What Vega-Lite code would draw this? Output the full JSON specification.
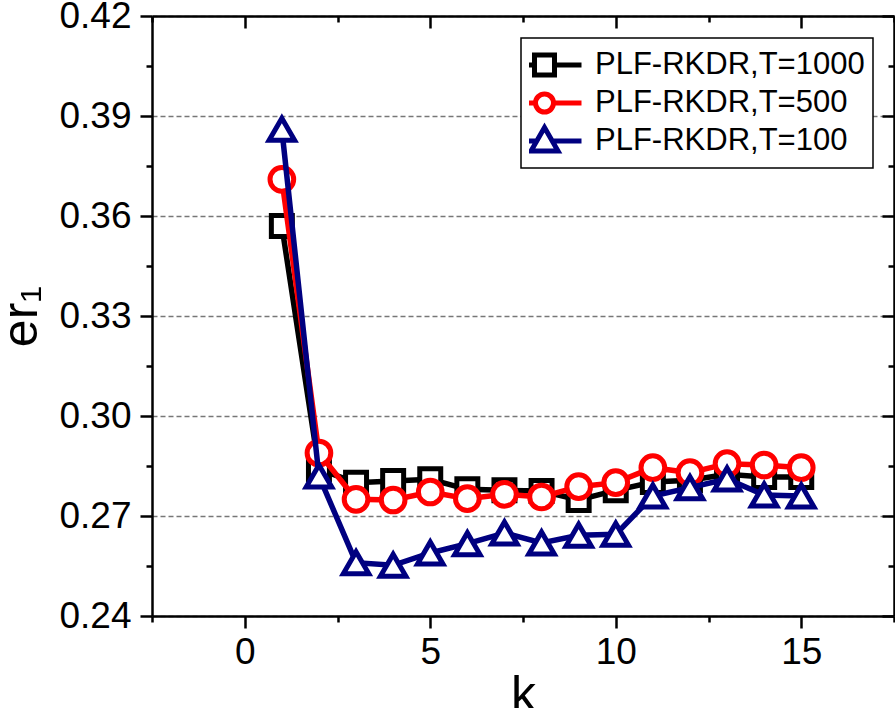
{
  "$schema": "https://vega.github.io/schema/vega-lite/v6.json",
  "width": 742,
  "height": 600,
  "autosize": {"type": "none"},
  "padding": {"left": 152, "top": 16, "right": 1, "bottom": 93},
  "background": "white",
  "config": {
    "view": {"stroke": null},
    "font": "Liberation Sans",
    "axis": {
      "domainColor": "black", "domainWidth": 2.5, "tickColor": "black", "tickWidth": 2.5,
      "labelColor": "black", "titleColor": "black", "labelFont": "Liberation Sans", "titleFont": "Liberation Sans",
      "labelFontSize": 37, "titleFontSize": 50, "titleFontWeight": "normal", "labelOverlap": false, "labelFlush": false, "labelBound": false
    }
  },
  "data": {"values": [
    {"k": 1, "er": 0.357, "T": "PLF-RKDR,T=1000"},
    {"k": 2, "er": 0.284, "T": "PLF-RKDR,T=1000"},
    {"k": 3, "er": 0.280, "T": "PLF-RKDR,T=1000"},
    {"k": 4, "er": 0.2805, "T": "PLF-RKDR,T=1000"},
    {"k": 5, "er": 0.281, "T": "PLF-RKDR,T=1000"},
    {"k": 6, "er": 0.278, "T": "PLF-RKDR,T=1000"},
    {"k": 7, "er": 0.2777, "T": "PLF-RKDR,T=1000"},
    {"k": 8, "er": 0.2775, "T": "PLF-RKDR,T=1000"},
    {"k": 9, "er": 0.2748, "T": "PLF-RKDR,T=1000"},
    {"k": 10, "er": 0.2777, "T": "PLF-RKDR,T=1000"},
    {"k": 11, "er": 0.2802, "T": "PLF-RKDR,T=1000"},
    {"k": 12, "er": 0.2807, "T": "PLF-RKDR,T=1000"},
    {"k": 13, "er": 0.2825, "T": "PLF-RKDR,T=1000"},
    {"k": 14, "er": 0.2817, "T": "PLF-RKDR,T=1000"},
    {"k": 15, "er": 0.2817, "T": "PLF-RKDR,T=1000"},
    {"k": 1, "er": 0.371, "T": "PLF-RKDR,T=500"},
    {"k": 2, "er": 0.2889, "T": "PLF-RKDR,T=500"},
    {"k": 3, "er": 0.275, "T": "PLF-RKDR,T=500"},
    {"k": 4, "er": 0.2748, "T": "PLF-RKDR,T=500"},
    {"k": 5, "er": 0.2772, "T": "PLF-RKDR,T=500"},
    {"k": 6, "er": 0.2752, "T": "PLF-RKDR,T=500"},
    {"k": 7, "er": 0.2765, "T": "PLF-RKDR,T=500"},
    {"k": 8, "er": 0.2757, "T": "PLF-RKDR,T=500"},
    {"k": 9, "er": 0.2788, "T": "PLF-RKDR,T=500"},
    {"k": 10, "er": 0.280, "T": "PLF-RKDR,T=500"},
    {"k": 11, "er": 0.2845, "T": "PLF-RKDR,T=500"},
    {"k": 12, "er": 0.283, "T": "PLF-RKDR,T=500"},
    {"k": 13, "er": 0.2857, "T": "PLF-RKDR,T=500"},
    {"k": 14, "er": 0.2853, "T": "PLF-RKDR,T=500"},
    {"k": 15, "er": 0.2845, "T": "PLF-RKDR,T=500"},
    {"k": 1, "er": 0.386, "T": "PLF-RKDR,T=100"},
    {"k": 2, "er": 0.282, "T": "PLF-RKDR,T=100"},
    {"k": 3, "er": 0.256, "T": "PLF-RKDR,T=100"},
    {"k": 4, "er": 0.2552, "T": "PLF-RKDR,T=100"},
    {"k": 5, "er": 0.2589, "T": "PLF-RKDR,T=100"},
    {"k": 6, "er": 0.2617, "T": "PLF-RKDR,T=100"},
    {"k": 7, "er": 0.2649, "T": "PLF-RKDR,T=100"},
    {"k": 8, "er": 0.2619, "T": "PLF-RKDR,T=100"},
    {"k": 9, "er": 0.2642, "T": "PLF-RKDR,T=100"},
    {"k": 10, "er": 0.2645, "T": "PLF-RKDR,T=100"},
    {"k": 11, "er": 0.276, "T": "PLF-RKDR,T=100"},
    {"k": 12, "er": 0.2785, "T": "PLF-RKDR,T=100"},
    {"k": 13, "er": 0.2811, "T": "PLF-RKDR,T=100"},
    {"k": 14, "er": 0.2763, "T": "PLF-RKDR,T=100"},
    {"k": 15, "er": 0.276, "T": "PLF-RKDR,T=100"}
  ]},
  "layer": [
    {
      "transform": [{"filter": "datum.T === 'PLF-RKDR,T=1000'"}],
      "mark": {"type": "line", "strokeWidth": 5.5},
      "encoding": {
        "x": {"field": "k", "type": "quantitative", "scale": {"domain": [-2.5, 17.5], "nice": false, "zero": false},
          "axis": {"orient": "bottom", "values": [-2.5, 0, 2.5, 5, 7.5, 10, 12.5, 15, 17.5], "format": "d",
            "labelExpr": "datum.value % 5 === 0 ? datum.label : ''",
            "tickSize": {"condition": {"test": "datum.value % 5 === 0", "value": 12}, "value": 6},
            "grid": false, "title": "k", "labelPadding": 6, "titlePadding": 0}},
        "y": {"field": "er", "type": "quantitative", "scale": {"domain": [0.24, 0.42], "nice": false, "zero": false},
          "axis": {"orient": "left", "values": [0.24, 0.255, 0.27, 0.285, 0.3, 0.315, 0.33, 0.345, 0.36, 0.375, 0.39, 0.405, 0.42], "format": ".2f",
            "labelExpr": "abs(datum.value*100/3 - round(datum.value*100/3)) < 0.01 ? datum.label : ''",
            "tickSize": {"condition": {"test": "abs(datum.value*100/3 - round(datum.value*100/3)) < 0.01", "value": 12}, "value": 6},
            "grid": true, "gridColor": "#777777", "gridDash": [5, 3], "gridWidth": 1.5,
            "gridOpacity": {"condition": {"test": "abs(datum.value*100/3 - round(datum.value*100/3)) < 0.01", "value": 1}, "value": 0},
            "title": "er₁", "labelPadding": 9, "titlePadding": 12}},
        "stroke": {"field": "T", "type": "nominal",
          "scale": {"domain": ["PLF-RKDR,T=1000", "PLF-RKDR,T=500", "PLF-RKDR,T=100"], "range": ["#000000", "#ff0000", "#000080"]},
          "legend": {"orient": "none", "legendX": 369, "legendY": 22, "title": null, "direction": "vertical",
            "padding": 8, "strokeColor": "black", "fillColor": "white",
            "labelFontSize": 31, "labelFont": "Liberation Sans", "labelColor": "black", "labelLimit": 0,
            "symbolSize": 400, "symbolStrokeWidth": 5, "labelOffset": 35, "rowPadding": 0, "clipHeight": 38,
            "encode": {
              "legend": {"update": {"strokeWidth": {"value": 1.5}}},
              "symbols": {"update": {
              "shape": {"signal": "datum.value === 'PLF-RKDR,T=1000' ? 'M-3.3,0H-1M1,0H3.7M-1,-1H1V1H-1Z' : datum.value === 'PLF-RKDR,T=500' ? 'M-3.3,0H-0.9M0.9,0H3.7M0.9,0A0.9,0.9,0,1,1,-0.9,0A0.9,0.9,0,1,1,0.9,0Z' : 'M-3.3,0H-0.78M0.78,0H3.7M0,-1.35L1.35,1L-1.35,1Z'"},
              "fill": {"value": "white"},
              "fillOpacity": {"value": 1},
              "stroke": {"signal": "datum.value === 'PLF-RKDR,T=1000' ? '#000000' : datum.value === 'PLF-RKDR,T=500' ? '#ff0000' : '#000080'"},
              "strokeWidth": {"value": 5},
              "size": {"value": 400},
              "opacity": {"value": 1}
            }}}}}
      }
    },
    {
      "transform": [{"filter": "datum.T === 'PLF-RKDR,T=1000'"}],
      "mark": {"type": "point", "shape": "square", "size": 440, "filled": true, "fill": "white", "fillOpacity": 1, "strokeWidth": 5, "opacity": 1},
      "encoding": {
        "x": {"field": "k", "type": "quantitative",
          "axis": {"orient": "top", "values": [-2.5, 0, 2.5, 5, 7.5, 10, 12.5, 15, 17.5], "labels": false, "title": null, "grid": false,
            "tickSize": {"condition": {"test": "datum.value % 5 === 0", "value": -12}, "value": -6}}},
        "y": {"field": "er", "type": "quantitative",
          "axis": {"orient": "right", "values": [0.24, 0.255, 0.27, 0.285, 0.3, 0.315, 0.33, 0.345, 0.36, 0.375, 0.39, 0.405, 0.42], "labels": false, "title": null, "grid": false,
            "tickSize": {"condition": {"test": "abs(datum.value*100/3 - round(datum.value*100/3)) < 0.01", "value": -12}, "value": -6}}},
        "stroke": {"field": "T", "type": "nominal", "legend": null}
      }
    },
    {
      "transform": [{"filter": "datum.T === 'PLF-RKDR,T=500'"}],
      "mark": {"type": "line", "strokeWidth": 5.5},
      "encoding": {
        "x": {"field": "k", "type": "quantitative", "axis": null},
        "y": {"field": "er", "type": "quantitative", "axis": null},
        "stroke": {"field": "T", "type": "nominal", "legend": null}
      }
    },
    {
      "transform": [{"filter": "datum.T === 'PLF-RKDR,T=500'"}],
      "mark": {"type": "point", "shape": "circle", "size": 560, "filled": true, "fill": "white", "fillOpacity": 1, "strokeWidth": 5, "opacity": 1},
      "encoding": {
        "x": {"field": "k", "type": "quantitative", "axis": null},
        "y": {"field": "er", "type": "quantitative", "axis": null},
        "stroke": {"field": "T", "type": "nominal", "legend": null}
      }
    },
    {
      "transform": [{"filter": "datum.T === 'PLF-RKDR,T=100'"}],
      "mark": {"type": "line", "strokeWidth": 5.5},
      "encoding": {
        "x": {"field": "k", "type": "quantitative", "axis": null},
        "y": {"field": "er", "type": "quantitative", "axis": null},
        "stroke": {"field": "T", "type": "nominal", "legend": null}
      }
    },
    {
      "transform": [{"filter": "datum.T === 'PLF-RKDR,T=100'"}],
      "mark": {"type": "point", "shape": "triangle-up", "size": 650, "filled": true, "fill": "white", "fillOpacity": 1, "strokeWidth": 5, "opacity": 1},
      "encoding": {
        "x": {"field": "k", "type": "quantitative", "axis": null},
        "y": {"field": "er", "type": "quantitative", "axis": null},
        "stroke": {"field": "T", "type": "nominal", "legend": null}
      }
    }
  ]
}
